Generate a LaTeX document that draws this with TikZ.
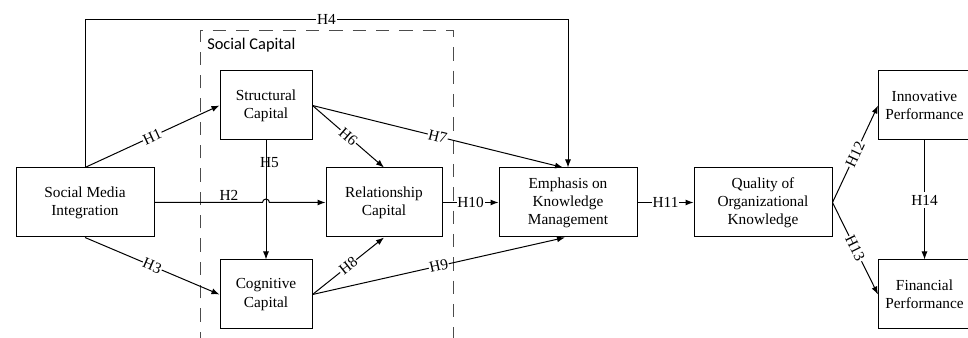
\documentclass[tikz,border=0pt]{standalone}
\usepackage{fontspec}
\setmainfont{Liberation Serif}
\newfontfamily\capfont{Carlito}
\usetikzlibrary{arrows.meta,calc}
\tikzset{
  box/.style={draw, line width=0.75pt, inner sep=0pt, align=center, minimum height=51.75pt,
    font=\fontsize{11.5}{13.6}\selectfont},
  arr/.style={line width=0.75pt, -{Latex[length=6pt,width=4.5pt]}},
  ln/.style={line width=0.75pt},
  lbl/.style={font=\fontsize{11.5}{13.6}\selectfont, fill=white, inner sep=0.6pt},
  slbl/.style={lbl, sloped},
  plbl/.style={font=\fontsize{11.5}{13.6}\selectfont, inner sep=0.6pt},
}
\begin{document}
\begin{tikzpicture}[x=0.75pt,y=-0.75pt]
\useasboundingbox (0,0) rectangle (968,338);
% dashed region
\draw[line width=0.75pt, color=black!70, dash pattern=on 10pt off 7.5pt] (200,345) -- (200,31) -- (453,31) -- (453,345);
\node[anchor=west, inner sep=0pt, font=\capfont\fontsize{12.3}{14}\selectfont] (sclabel) at (207,45) {Social Capital};
% nodes
\node[box, minimum width=103.5pt] (smi) at (85,202.5) {Social Media\\Integration};
\node[box, minimum width=69pt] (sc) at (266,105.5) {Structural\\Capital};
\node[box, minimum width=87pt] (rc) at (384,202.5) {Relationship\\Capital};
\node[box, minimum width=69pt] (cc) at (266,294.5) {Cognitive\\Capital};
\node[box, minimum width=103.5pt] (ekm) at (568,202.5) {Emphasis on\\Knowledge\\Management};
\node[box, minimum width=103.5pt] (qok) at (763,202.5) {Quality of\\Organizational\\Knowledge};
\node[box, minimum width=69pt] (ip) at (924.5,105.5) {Innovative\\Performance};
\node[box, minimum width=69pt] (fp) at (924.5,294.5) {Financial\\Performance};
\coordinate (h4y) at (0,19.5);
% H4
\draw[arr] (smi.north) -- (smi.north |- h4y) -- node[lbl]{H4} (ekm.north |- h4y) -- (ekm.north);
% H1, H3
\draw[arr] (smi.north) -- node[slbl]{H1} (sc.west);
\draw[arr] (smi.south) -- node[slbl]{H3} (cc.west);
% H5
\draw[arr] (sc.south) -- (cc.north);
\node[plbl] (h5) at (269.5,163) {H5};
% H2 with jump
\coordinate (jmp) at ($(sc.south |- smi.east)+(-3.5,0)$);
\draw[arr] (smi.east) -- (jmp) arc (180:0:2.6pt) -- (rc.west);
\node[plbl, anchor=south] (h2) at (229,202) {H2};
% H6, H7
\draw[arr] (sc.east) -- node[slbl]{H6} (rc.north);
\draw[arr] (sc.east) -- node[slbl]{H7} ($(ekm.north)+(-5,0)$);
% H8, H9
\draw[arr] (cc.east) -- node[slbl]{H8} (rc.south);
\draw[arr] (cc.east) -- node[slbl]{H9} ($(ekm.south)+(-3,0)$);
% H10, H11
\draw[arr] (rc.east) -- node[lbl]{H10} (ekm.west);
\draw[arr] (ekm.east) -- node[lbl]{H11} (qok.west);
% H12, H13, H14
\draw[arr] (qok.east) -- node[slbl]{H12} (ip.west);
\draw[arr] (qok.east) -- node[slbl]{H13} (fp.west);
\draw[arr] (ip.south) -- node[lbl, inner sep=2pt]{H14} (fp.north);
\end{tikzpicture}
\end{document}
